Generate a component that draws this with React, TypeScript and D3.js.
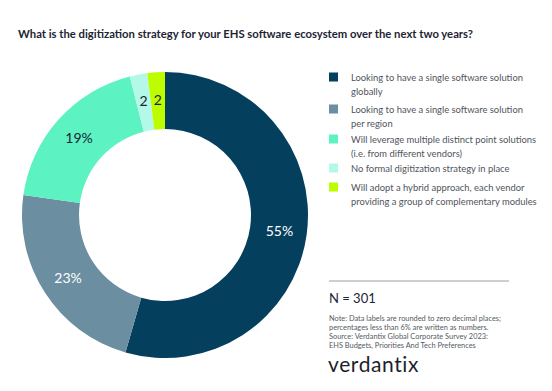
import * as d3 from "d3";
import { useEffect, useRef } from "react";

const categories = [
  ["Looking to have a single software solution", "globally"],
  ["Looking to have a single software solution", "per region"],
  ["Will leverage multiple distinct point solutions", "(i.e. from different vendors)"],
  ["No formal digitization strategy in place"],
  ["Will adopt a hybrid approach, each vendor", "providing a group of complementary modules"],
];
const values = [55, 23, 19, 2, 2];
const sliceLabels = ["55%", "23%", "19%", "2", "2"];
const colors = ["#053f5e", "#6b8ea1", "#5cf2c2", "#b4f8e7", "#bdfd00"];
const labelColors = ["#ffffff", "#ffffff", "#1d2433", "#1d2433", "#1d2433"];
const noteLines = [
  "Note: Data labels are rounded to zero decimal places;",
  "percentages less than 6% are written as numbers.",
  "Source: Verdantix Global Corporate Survey 2023:",
  "EHS Budgets, Priorities And Tech Preferences",
];

const font = "Lato, 'Noto Sans', sans-serif";

function App() {
  const ref = useRef<SVGSVGElement | null>(null);

  useEffect(() => {
    const svg = d3.select(ref.current);
    svg.selectAll("*").remove();

    svg
      .append("text")
      .attr("x", 18)
      .attr("y", 38)
      .attr("font-family", font)
      .attr("font-weight", 700)
      .attr("font-size", 12.2)
      .attr("textLength", 455)
      .attr("lengthAdjust", "spacingAndGlyphs")
      .attr("fill", "#1d2433")
      .text("What is the digitization strategy for your EHS software ecosystem over the next two years?");

    const cx = 165;
    const cy = 215;
    const outer = 143;
    const inner = 86;

    const pie = d3
      .pie<number>()
      .sort(null)
      .value((d) => d);
    const arcs = pie(values);
    const arc = d3.arc<d3.PieArcDatum<number>>().innerRadius(inner).outerRadius(outer);

    const g = svg.append("g").attr("transform", `translate(${cx},${cy})`);
    g.selectAll("path")
      .data(arcs)
      .join("path")
      .attr("d", arc)
      .attr("fill", (_, i) => colors[i]);

    const labelArc = d3.arc<d3.PieArcDatum<number>>().innerRadius(inner).outerRadius(outer + 2);
    g.selectAll("text")
      .data(arcs)
      .join("text")
      .attr("transform", (d) => {
        const [x, y] = labelArc.centroid(d);
        return `translate(${x},${y})`;
      })
      .attr("text-anchor", "middle")
      .attr("dy", "0.35em")
      .attr("font-family", font)
      .attr("font-size", 14)
      .attr("fill", (_, i) => labelColors[i])
      .text((_, i) => sliceLabels[i]);

    // legend
    const rowY = [77, 109, 139, 168, 187];
    const legend = svg.append("g");
    categories.forEach((lines, i) => {
      legend
        .append("rect")
        .attr("x", 329)
        .attr("y", rowY[i] - 4.5)
        .attr("width", 9)
        .attr("height", 9)
        .attr("fill", colors[i]);
      lines.forEach((line, j) => {
        legend
          .append("text")
          .attr("x", 351)
          .attr("y", rowY[i] + 3.5 + j * 14)
          .attr("font-family", font)
          .attr("font-size", 9.4)
          .attr("fill", "#50555c")
          .text(line);
      });
    });

    svg
      .append("line")
      .attr("x1", 329)
      .attr("x2", 509)
      .attr("y1", 281)
      .attr("y2", 281)
      .attr("stroke", "#9a9ea4")
      .attr("stroke-width", 1);

    svg
      .append("text")
      .attr("x", 329)
      .attr("y", 303)
      .attr("font-family", font)
      .attr("font-size", 13)
      .attr("fill", "#1d2433")
      .text("N = 301");

    noteLines.forEach((line, i) => {
      svg
        .append("text")
        .attr("x", 329)
        .attr("y", 321 + i * 9)
        .attr("font-family", font)
        .attr("font-size", 7.4)
        .attr("fill", "#555a61")
        .text(line);
    });

    svg
      .append("text")
      .attr("x", 328)
      .attr("y", 372)
      .attr("font-family", font)
      .attr("font-size", 21)
      .attr("letter-spacing", 0.6)
      .attr("fill", "#1d1f2b")
      .text("verdantix");
  }, []);

  return (
    <svg
      ref={ref}
      width={552}
      height={391}
      style={{ position: "absolute", left: 0, top: 0, background: "#ffffff" }}
    ></svg>
  );
}

export default App;
